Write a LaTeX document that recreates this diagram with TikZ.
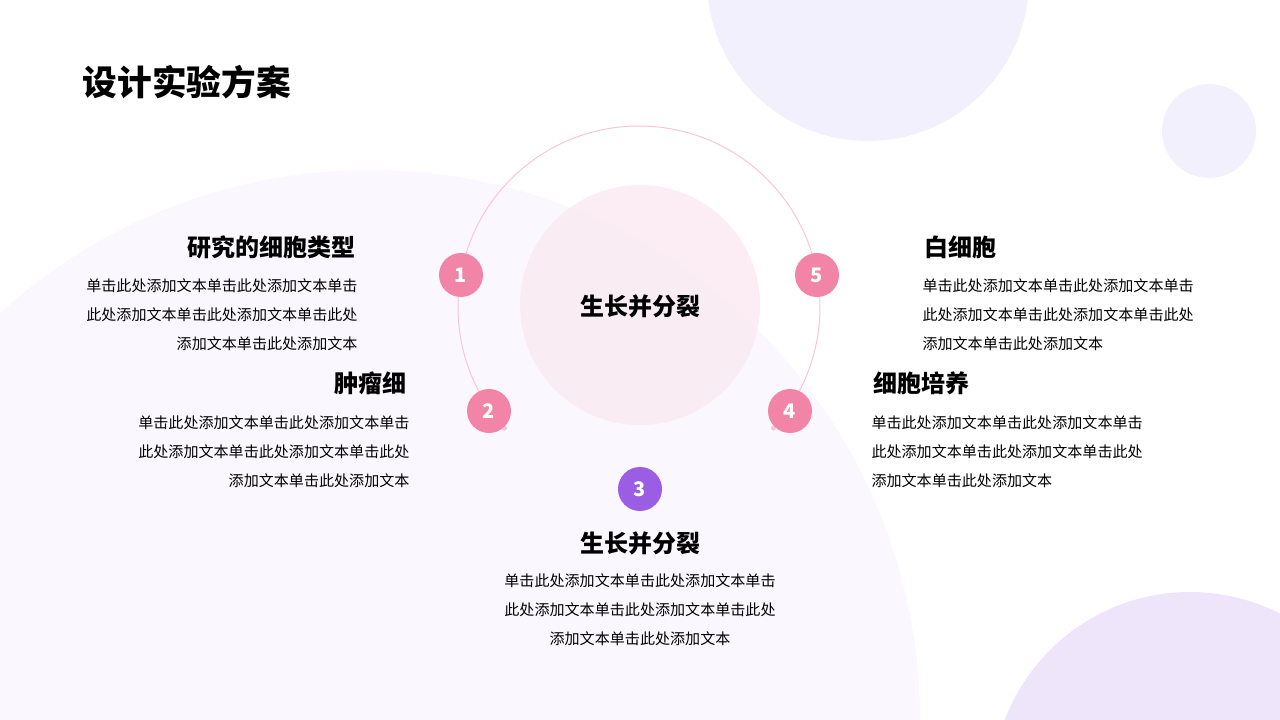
\documentclass[tikz,border=0pt]{standalone}
\usepackage{fontspec}
\setmainfont{Noto Sans CJK SC}
\tikzset{every picture/.style={line width=0.75pt}}
\definecolor{lav}{HTML}{F3F0FD}
\definecolor{lavsoft}{HTML}{FAF8FE}
\definecolor{lavdeep}{HTML}{EEE5FB}
\definecolor{pinksoft}{HTML}{FBEAF2}
\definecolor{pinkline}{HTML}{F7C6D8}
\definecolor{pinkdot}{HTML}{F284A8}
\definecolor{purpledot}{HTML}{9A5DE3}
\tikzset{
  numdot/.style={circle,fill=pinkdot,minimum size=33pt,inner sep=0pt,text=white,font=\bfseries\fontsize{15}{15}\selectfont},
  head/.style={font=\bfseries\fontsize{18}{18}\selectfont},
  body/.style={font=\fontsize{11.3}{22}\selectfont,inner sep=0pt}
}
\begin{document}
\begin{tikzpicture}[x=0.75pt,y=0.75pt,yscale=-1,xscale=1]
	\useasboundingbox (0,0) rectangle (1280,720);
	\clip (0,0) rectangle (1280,720);

	% background shapes
	\fill[lavsoft] (370,720) circle (550);
	\fill[lav] (868,-20) circle (161);
	\fill[lav] (1209,131) circle (47);
	\fill[lavdeep] (1190,790) circle (198);
	\fill[pinksoft,opacity=0.85] (640,305) circle (120);

	% arc with end dots
	\draw[pinkline] (639,307) ++(138:181) arc (138:402:181);
	\fill[pinkline] (639,307) ++(138:181) circle (2.5);
	\fill[pinkline] (639,307) ++(42:181) circle (2.5);

	% numbered dots
	\node[numdot] (n1) at (461,275) {1};
	\node[numdot] (n2) at (489,411) {2};
	\node[numdot,fill=purpledot] (n3) at (640,489) {3};
	\node[numdot] (n4) at (790,411) {4};
	\node[numdot] (n5) at (817,275) {5};

	% title and centre
	\node[anchor=west,font=\bfseries\fontsize{26}{26}\selectfont] (title) at (78,82) {设计实验方案};
	\node[head] (centre) at (640,306) {生长并分裂};

	% left items
	\node[head,anchor=east] (h1) at (360,247) {研究的细胞类型};
	\node[body,anchor=north east,align=right] (t1) at (358,278) {单击此处添加文本单击此处添加文本单击\\此处添加文本单击此处添加文本单击此处\\添加文本单击此处添加文本};
	\node[head,anchor=east] (h2) at (411,383) {肿瘤细};
	\node[body,anchor=north east,align=right] (t2) at (410,415) {单击此处添加文本单击此处添加文本单击\\此处添加文本单击此处添加文本单击此处\\添加文本单击此处添加文本};

	% bottom item
	\node[head] (h3) at (640,543) {生长并分裂};
	\node[body,anchor=north,align=center] (t3) at (640,573) {单击此处添加文本单击此处添加文本单击\\此处添加文本单击此处添加文本单击此处\\添加文本单击此处添加文本};

	% right items
	\node[head,anchor=west] (h5) at (920,247) {白细胞};
	\node[body,anchor=north west,align=left] (t5) at (922,278) {单击此处添加文本单击此处添加文本单击\\此处添加文本单击此处添加文本单击此处\\添加文本单击此处添加文本};
	\node[head,anchor=west] (h4) at (869,383) {细胞培养};
	\node[body,anchor=north west,align=left] (t4) at (871,415) {单击此处添加文本单击此处添加文本单击\\此处添加文本单击此处添加文本单击此处\\添加文本单击此处添加文本};
\end{tikzpicture}
\end{document}
